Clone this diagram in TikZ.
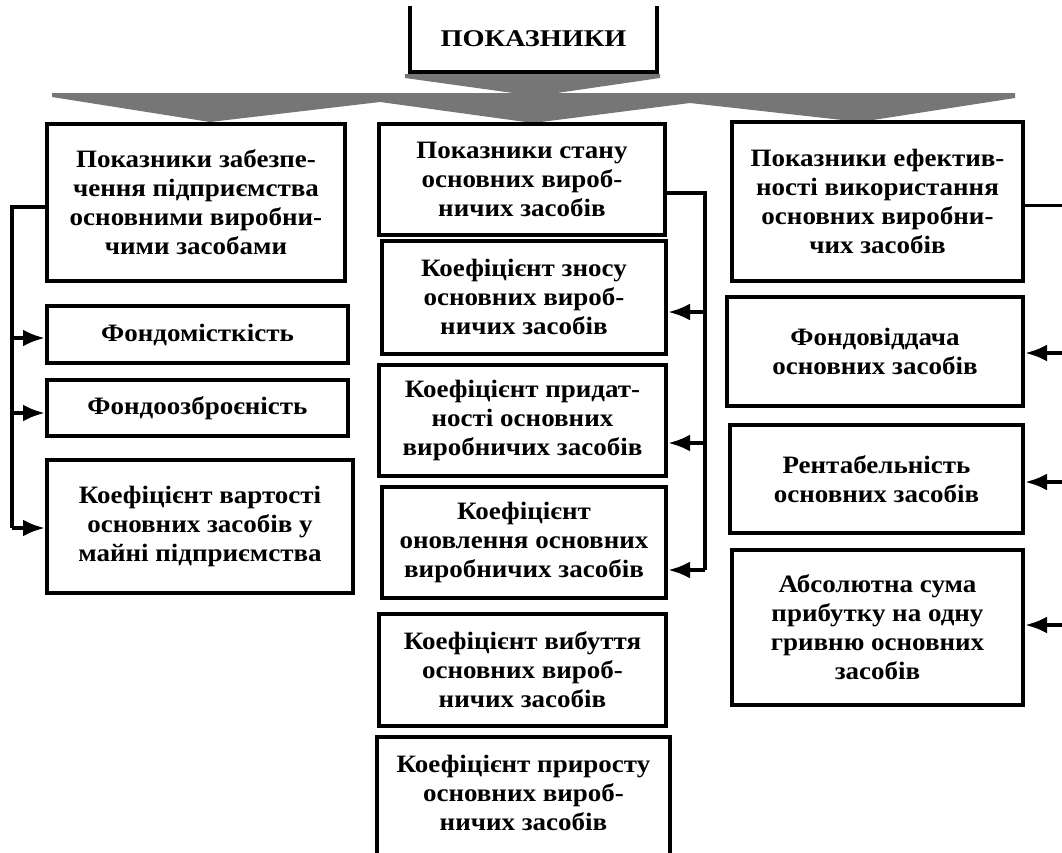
\documentclass[tikz,border=0pt]{standalone}
\usepackage{fontspec}
\setmainfont{Liberation Serif}[FakeStretch=1.08]
\newfontfamily\hdrfont{Liberation Serif}[FakeStretch=1.18]
\usetikzlibrary{arrows.meta}
\definecolor{bandgray}{RGB}{118,118,118}
\tikzset{
  box/.style={draw, line width=4pt, inner sep=0pt, align=center,
    font=\fontsize{25}{29}\selectfont\bfseries},
  conn/.style={line width=4pt},
  arr/.style={line width=4pt, -{Latex[length=22pt,width=17pt]}},
}
\begin{document}
\begin{tikzpicture}[x=1pt,y=-1pt]
\useasboundingbox (0,0) rectangle (1062,852);
\clip (0,0) rectangle (1062,852);
% gray chevron band
\fill[bandgray] (405,74) -- (660,74) -- (660,78) -- (557,93) -- (513,93) -- (405,78) -- cycle;
\fill[bandgray] (52,93) -- (1015,93) -- (1015,98) -- (860,122) -- (690,103) -- (533,123)
  -- (380,102) -- (210,122) -- (52,97) -- cycle;
% header
\node[inner sep=0pt, minimum width=247pt, minimum height=66pt,
  font=\hdrfont\fontsize{24}{28}\selectfont\bfseries] (hdr) at (533.5,39) {ПОКАЗНИКИ};
\draw[line width=4pt] (hdr.north west) -- (hdr.south west) -- (hdr.south east) -- (hdr.north east);
% left column
\node[box, minimum width=298pt, minimum height=157pt] (L0) at (196,202.5)
  {Показники забезпе-\\чення підприємства\\основними виробни-\\чими засобами};
\node[box, minimum width=301pt, minimum height=57pt] (L1) at (197.5,334.5) {Фондомісткість};
\node[box, minimum width=301pt, minimum height=56pt] (L2) at (197.5,408) {Фондоозброєність};
\node[box, minimum width=306pt, minimum height=133pt] (L3) at (200,526.5)
  {Коефіцієнт вартості\\основних засобів у\\майні підприємства};
% middle column
\node[box, minimum width=286pt, minimum height=111pt] (M0) at (522,179.5)
  {Показники стану\\основних вироб-\\ничих засобів};
\node[box, minimum width=284pt, minimum height=113pt] (M1) at (524,297)
  {Коефіцієнт зносу\\основних вироб-\\ничих засобів};
\node[box, minimum width=287pt, minimum height=111pt] (M2) at (522.5,420.5)
  {Коефіцієнт придат-\\ності основних\\виробничих засобів};
\node[box, minimum width=284pt, minimum height=111pt] (M3) at (524,542.5)
  {Коефіцієнт\\оновлення основних\\виробничих засобів};
\node[box, minimum width=287pt, minimum height=112pt] (M4) at (522.5,670)
  {Коефіцієнт вибуття\\основних вироб-\\ничих засобів};
\node[draw, line width=4pt, inner sep=0pt, minimum width=293pt, minimum height=171pt] (M5) at (523.5,822) {};
\node[font=\fontsize{25}{29}\selectfont\bfseries, align=center] (M5t) at (523.5,793)
  {Коефіцієнт приросту\\основних вироб-\\ничих засобів};
% right column
\node[box, minimum width=291pt, minimum height=159pt] (R0) at (877.5,201.5)
  {Показники ефектив-\\ності використання\\основних виробни-\\чих засобів};
\node[box, minimum width=296pt, minimum height=109pt] (R1) at (875,351.5)
  {Фондовіддача\\основних засобів};
\node[box, minimum width=293pt, minimum height=108pt] (R2) at (876.5,479)
  {Рентабельність\\основних засобів};
\node[box, minimum width=291pt, minimum height=155pt] (R3) at (877.5,627.5)
  {Абсолютна сума\\прибутку на одну\\гривню основних\\засобів};
% left connector
\coordinate (lv0) at (12,207);
\coordinate (lv1) at (12,338);
\coordinate (lv2) at (12,413);
\coordinate (lv3) at (12,528);
\draw[conn] (L0.west |- lv0) -- (lv0) -- (lv3);
\draw[arr] (lv1) -- (lv1 -| L1.west);
\draw[arr] (lv2) -- (lv2 -| L2.west);
\draw[arr] (lv3) -- (lv3 -| L3.west);
% middle connector
\coordinate (mv0) at (705,193);
\coordinate (mv1) at (705,312);
\coordinate (mv2) at (705,443);
\coordinate (mv3) at (705,570);
\draw[conn] (M0.east |- mv0) -- (mv0) -- (mv3);
\draw[arr] (mv1) -- (mv1 -| M1.east);
\draw[arr] (mv2) -- (mv2 -| M2.east);
\draw[arr] (mv3) -- (mv3 -| M3.east);
% right connector
\coordinate (rv0) at (1080,205);
\coordinate (rv1) at (1080,353);
\coordinate (rv2) at (1080,482);
\coordinate (rv3) at (1080,625);
\draw[line width=3pt] (R0.east |- rv0) -- (rv0) -- (rv3);
\draw[arr] (rv1) -- (rv1 -| R1.east);
\draw[arr] (rv2) -- (rv2 -| R2.east);
\draw[arr] (rv3) -- (rv3 -| R3.east);
\end{tikzpicture}
\end{document}
